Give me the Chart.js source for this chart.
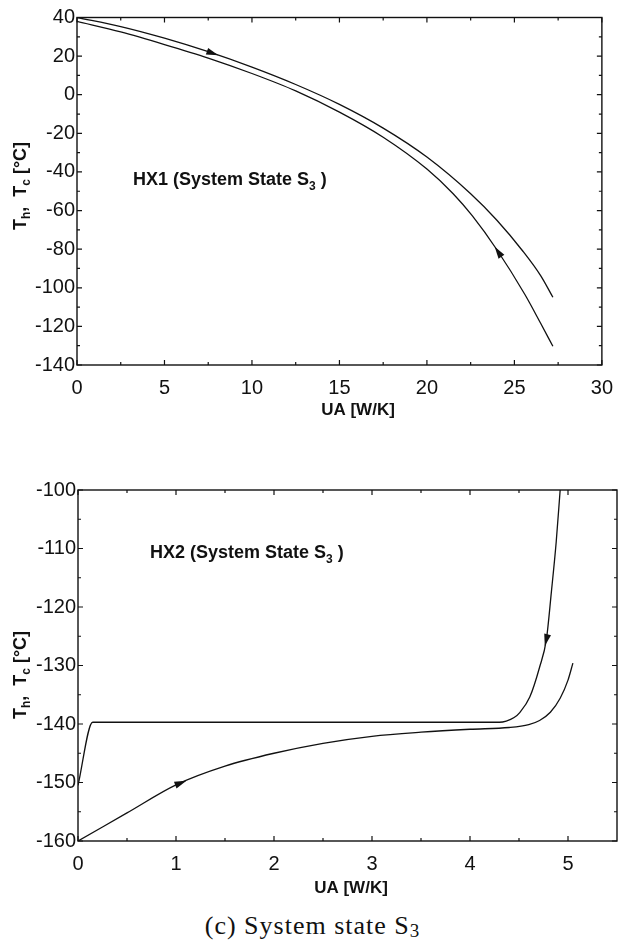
<!DOCTYPE html>
<html>
<head>
<meta charset="utf-8">
<script src="https://cdn.jsdelivr.net/npm/chart.js@4.4.1/dist/chart.umd.min.js"></script>
<style>
html,body{margin:0;padding:0;background:#fff;}
#wrap{position:relative;width:624px;height:942px;overflow:hidden;background:#fff;}
#c1{position:absolute;left:0;top:0;}
#c2{position:absolute;left:0;top:440px;}
#cap{position:absolute;left:0;width:624px;top:913px;text-align:center;font-family:"Liberation Serif","Times New Roman",serif;font-size:26px;letter-spacing:1px;color:#111;line-height:26px;}
#cap sub{font-size:19px;vertical-align:-3px;letter-spacing:0;}
</style>
</head>
<body>
<div id="wrap">
  <canvas id="c1" width="624" height="430"></canvas>
  <canvas id="c2" width="624" height="470"></canvas>
  <div id="cap">(c) System state S<sub>3</sub></div>
</div>
<script>
// ---------------- DATA ----------------
// HX1 (top panel)
const hx1HotUA   = [0, 2.5, 5, 7.5, 10, 12.5, 15, 17.5, 20, 22.5, 24, 25.5, 26.5, 27.2];
const hx1HotT    = [40, 35.3, 29.3, 22.3, 14.3, 5.3, -5, -17.3, -32.3, -51.3, -65, -81.2, -93.7, -104.9];
const hx1ColdUA  = [0, 2.5, 5, 7.5, 10, 12.5, 15, 17.5, 20, 21.5, 22.6, 24, 25.6, 26.5, 27.2];
const hx1ColdT   = [38, 32.5, 26, 19, 11, 2, -9, -22, -38.5, -51.3, -62.8, -80.3, -103.5, -118.4, -130.3];
const hx1ArrowUA = [7.7, 24.1];
const hx1XTicks  = [0, 5, 10, 15, 20, 25, 30];
const hx1XMinor  = [2.5, 7.5, 12.5, 17.5, 22.5, 27.5];
const hx1YTicks  = [-140, -120, -100, -80, -60, -40, -20, 0, 20, 40];
const hx1YMinor  = [-130, -110, -90, -70, -50, -30, -10, 10, 30];

// HX2 (bottom panel)
const hx2HotUA   = [0, 0.15, 1, 2, 3, 4, 4.3, 4.37, 4.45, 4.51, 4.61, 4.71, 4.78, 4.83, 4.88, 4.92];
const hx2HotT    = [-150.5, -139.7, -139.7, -139.7, -139.7, -139.7, -139.7, -139.5, -138.9, -138, -135.4, -130.3, -125.5, -117.5, -108.8, -100];
const hx2ColdUA  = [0, 0.5, 1, 1.5, 2, 2.5, 3, 3.5, 4, 4.4, 4.6, 4.71, 4.82, 4.92, 5.0, 5.05];
const hx2ColdT   = [-160, -155.2, -150.4, -147.2, -145, -143.3, -142.1, -141.4, -140.9, -140.6, -140.1, -139.4, -138, -135.6, -132.5, -129.6];
const hx2ArrowUA = [4.78, 1.04];
const hx2XTicks  = [0, 1, 2, 3, 4, 5];
const hx2XMinor  = [0.5, 1.5, 2.5, 3.5, 4.5];
const hx2YTicks  = [-160, -150, -140, -130, -120, -110, -100];
const hx2YMinor  = [-155, -145, -135, -125, -115, -105];

const xTitle = 'UA [W/K]';
const hx1Label = 'HX1 (System State S';
const hx2Label = 'HX2 (System State S';

// ---------------- HELPERS ----------------
const INK = '#111';
const SANS = '"Liberation Sans", Arial, Helvetica, sans-serif';

function pts(xs, ys) { return xs.map((x, i) => ({x: x, y: ys[i]})); }
function lineDs(xs, ys) {
  return {data: pts(xs, ys), showLine: true, borderColor: INK, borderWidth: 1.3,
          pointRadius: 0, fill: false, cubicInterpolationMode: 'monotone'};
}
function interpY(data, x) {
  for (let i = 0; i < data.length - 1; i++) {
    if (x >= data[i].x && x <= data[i + 1].x) {
      const t = (x - data[i].x) / (data[i + 1].x - data[i].x);
      return data[i].y + t * (data[i + 1].y - data[i].y);
    }
  }
  return data[data.length - 1].y;
}

const decorPlugin = {
  id: 'decor',
  afterDraw(chart, args, o) {
    const ctx = chart.ctx, a = chart.chartArea, sx = chart.scales.x, sy = chart.scales.y;
    ctx.save();
    // frame
    ctx.strokeStyle = INK; ctx.lineWidth = 1.4;
    ctx.strokeRect(a.left, a.top, a.right - a.left, a.bottom - a.top);
    // ticks (inside, all four sides)
    ctx.lineWidth = 1.2;
    const tick = (vals, len, horiz) => {
      vals.forEach(v => {
        ctx.beginPath();
        if (horiz) {
          const p = sx.getPixelForValue(v);
          ctx.moveTo(p, a.bottom); ctx.lineTo(p, a.bottom - len);
          ctx.moveTo(p, a.top); ctx.lineTo(p, a.top + len);
        } else {
          const p = sy.getPixelForValue(v);
          ctx.moveTo(a.left, p); ctx.lineTo(a.left + len, p);
          ctx.moveTo(a.right, p); ctx.lineTo(a.right - len, p);
        }
        ctx.stroke();
      });
    };
    tick(o.xMajor, 5, true); tick(o.xMinor, 3, true);
    tick(o.yMajor, 5, false); tick(o.yMinor, 3, false);

    // arrows
    ctx.fillStyle = INK;
    o.arrows.forEach(ar => {
      const data = chart.data.datasets[ar.ds].data;
      const px = sx.getPixelForValue(ar.at), py = sy.getPixelForValue(interpY(data, ar.at));
      const x2 = ar.at + ar.dir * ar.d;
      const qx = sx.getPixelForValue(x2), qy = sy.getPixelForValue(interpY(data, x2));
      const ang = Math.atan2(qy - py, qx - px);
      ctx.save(); ctx.translate(px, py); ctx.rotate(ang);
      ctx.beginPath(); ctx.moveTo(7, 0); ctx.lineTo(-5, -3.5); ctx.lineTo(-5, 3.5); ctx.closePath();
      ctx.fill(); ctx.restore();
    });

    // x title
    ctx.fillStyle = INK;
    ctx.font = 'bold 17px ' + SANS;
    ctx.textAlign = 'center'; ctx.textBaseline = 'middle';
    ctx.fillText(xTitle, o.xTitle[0], o.xTitle[1]);

    // y title with subscripts (rotated)
    ctx.save();
    ctx.translate(o.yTitle[0], o.yTitle[1]);
    ctx.rotate(-Math.PI / 2);
    ctx.textAlign = 'left'; ctx.textBaseline = 'alphabetic';
    const parts = [['T', 0], ['h', 1], [',  ', 0], ['T', 0], ['c', 1], [' [°C]', 0]];
    const big = 'bold 18px ' + SANS, small = 'bold 12px ' + SANS;
    let total = 0;
    parts.forEach(p => { ctx.font = p[1] ? small : big; total += ctx.measureText(p[0]).width; });
    let x = -total / 2;
    parts.forEach(p => {
      ctx.font = p[1] ? small : big;
      ctx.fillText(p[0], x, p[1] ? 4 : 0);
      x += ctx.measureText(p[0]).width;
    });
    ctx.restore();

    // annotation
    ctx.textAlign = 'left'; ctx.textBaseline = 'alphabetic';
    ctx.font = 'bold 18px ' + SANS;
    let ax = o.note[0];
    ctx.fillText(o.noteText, ax, o.note[1]);
    ax += ctx.measureText(o.noteText).width;
    ctx.font = 'bold 12px ' + SANS;
    ctx.fillText('3', ax, o.note[1] + 5);
    ax += ctx.measureText('3').width;
    ctx.font = 'bold 18px ' + SANS;
    ctx.fillText(' )', ax, o.note[1]);
    ctx.restore();
  }
};

function makeChart(id, c) {
  return new Chart(document.getElementById(id), {
    type: 'scatter',
    data: {datasets: c.datasets},
    options: {
      responsive: false, animation: false, devicePixelRatio: 1,
      layout: {padding: c.padding},
      plugins: {legend: {display: false}, tooltip: {enabled: false}, decor: c.decor},
      scales: {
        x: {
          type: 'linear', min: c.xMin, max: c.xMax,
          afterBuildTicks: s => { s.ticks = c.decor.xMajor.map(v => ({value: v})); },
          afterFit: s => { s.height = c.xH; },
          grid: {display: false, drawTicks: false}, border: {display: false},
          ticks: {color: INK, font: {family: SANS, size: 20}, padding: 11, maxRotation: 0, autoSkip: false,
                  callback: v => String(v)}
        },
        y: {
          type: 'linear', min: c.yMin, max: c.yMax,
          afterBuildTicks: s => { s.ticks = c.decor.yMajor.map(v => ({value: v})); },
          afterFit: s => { s.width = c.yW; },
          grid: {display: false, drawTicks: false}, border: {display: false},
          ticks: {color: INK, font: {family: SANS, size: 20}, padding: 2, autoSkip: false,
                  callback: v => String(v)}
        }
      }
    },
    plugins: [decorPlugin]
  });
}

// top chart: plot area x 77..611, y 17.5..365 in a 430px-tall canvas
makeChart('c1', {
  datasets: [lineDs(hx1HotUA, hx1HotT), lineDs(hx1ColdUA, hx1ColdT)],
  padding: {left: 0, right: 13, top: 17.5, bottom: 0},
  xMin: 0, xMax: 30, yMin: -140, yMax: 40, xH: 65, yW: 77,
  decor: {
    xMajor: hx1XTicks, xMinor: hx1XMinor, yMajor: hx1YTicks, yMinor: hx1YMinor,
    arrows: [{ds: 0, at: hx1ArrowUA[0], dir: 1, d: 0.3}, {ds: 1, at: hx1ArrowUA[1], dir: -1, d: 0.2}],
    xTitle: [358, 410], yTitle: [26, 186], note: [133, 185], noteText: hx1Label
  }
});

// bottom chart: plot area x 78..617, page y 490..841 (canvas top 440)
makeChart('c2', {
  datasets: [lineDs(hx2HotUA, hx2HotT), lineDs(hx2ColdUA, hx2ColdT)],
  padding: {left: 0, right: 7, top: 50, bottom: 0},
  xMin: 0, xMax: 5.5, yMin: -160, yMax: -100, xH: 69, yW: 78,
  decor: {
    xMajor: hx2XTicks, xMinor: hx2XMinor, yMajor: hx2YTicks, yMinor: hx2YMinor,
    arrows: [{ds: 0, at: hx2ArrowUA[0], dir: -1, d: 0.02}, {ds: 1, at: hx2ArrowUA[1], dir: 1, d: 0.05}],
    xTitle: [351, 448], yTitle: [26, 235], note: [150, 118], noteText: hx2Label
  }
});
</script>
</body>
</html>
